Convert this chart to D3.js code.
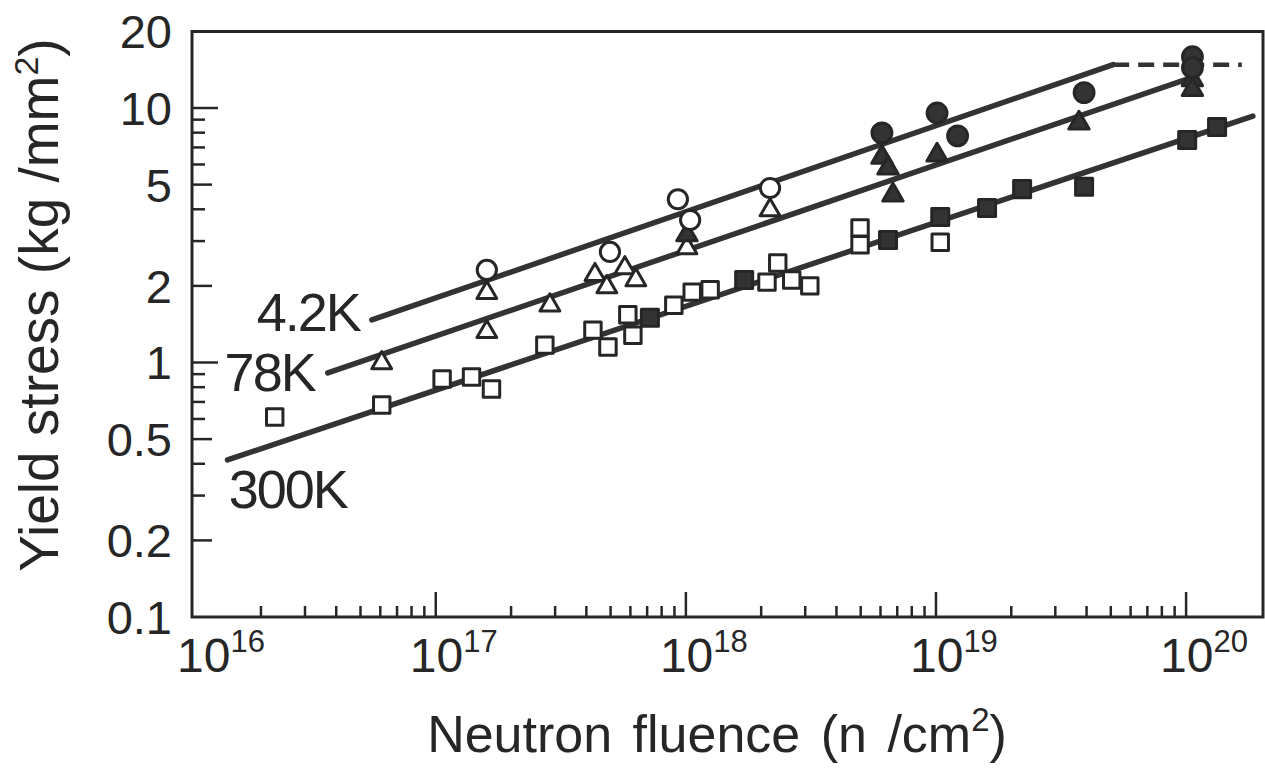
<!DOCTYPE html>
<html>
<head>
<meta charset="utf-8">
<script src="https://cdnjs.cloudflare.com/ajax/libs/d3/7.8.5/d3.min.js"></script>
<style>
  body { margin: 0; background: #fff; }
  text { font-family: "Liberation Sans", Arial, sans-serif; fill: #262626; }
</style>
</head>
<body>
<div id="holder"></div>
<script>
var width = 1265;
var height = 776;
var ink = "#262626";

// [fluence n/cm2, yield stress kg/mm2]
var openCircles = [[1.60e17, 2.31], [4.97e17, 2.72], [9.29e17, 4.38], [1.04e18, 3.63], [2.17e18, 4.85]];
var filledCircles = [[6.08e18, 7.98], [1.01e19, 9.56], [1.22e19, 7.77], [3.91e19, 11.5], [1.06e20, 15.9], [1.06e20, 14.4]];
var openTriangles = [[6.08e16, 0.995], [1.60e17, 1.88], [1.60e17, 1.32], [2.86e17, 1.68], [4.33e17, 2.21],
  [4.83e17, 1.98], [5.70e17, 2.35], [6.31e17, 2.11], [1.01e18, 2.82], [2.17e18, 3.97]];
var filledTriangles = [[1.01e18, 3.17], [6.08e18, 6.4], [6.43e18, 5.81], [6.73e18, 4.55], [1.01e19, 6.53],
  [3.73e19, 8.73], [1.06e20, 12.9], [1.06e20, 11.8]];
var openSquares = [[2.27e16, 0.611], [6.08e16, 0.681], [1.06e17, 0.861], [1.39e17, 0.877], [1.67e17, 0.787],
  [2.73e17, 1.17], [4.25e17, 1.34], [4.88e17, 1.15], [5.86e17, 1.54], [6.14e17, 1.28], [8.95e17, 1.68],
  [1.06e18, 1.89], [1.25e18, 1.93], [2.11e18, 2.07], [2.33e18, 2.46], [2.65e18, 2.11], [3.13e18, 2.0],
  [4.97e18, 3.38], [4.97e18, 2.90], [1.04e19, 2.97]];
var filledSquares = [[7.18e17, 1.50], [1.71e18, 2.11], [6.43e18, 3.03], [1.04e19, 3.73], [1.60e19, 4.05],
  [2.21e19, 4.8], [3.91e19, 4.9], [1.01e20, 7.48], [1.33e20, 8.42]];

var fit42 = [[5.55e16, 1.47], [5.11e19, 14.8]];
var sat42 = [[5.11e19, 14.8], [1.67e20, 14.8]];
var fit78 = [[3.70e16, 0.91], [9.9e19, 12.9]];
var fit300 = [[1.47e16, 0.414], [1.85e20, 9.30]];

// label text, right end fluence, middle stress
var curveLabels = [["4.2K", 4.97e16, 1.58], ["78K", 3.28e16, 0.918], ["300K", 4.41e16, 0.321]];

var yTickLabels = [20, 10, 5, 2, 1, 0.5, 0.2, 0.1];
var xDecades = [1e16, 1e17, 1e18, 1e19, 1e20];
var xExponents = ["16", "17", "18", "19", "20"];

var x = d3.scaleLog().domain([1.06e16, 2.03e20]).range([192, 1263]);
var y = d3.scaleLog().domain([0.1, 20]).range([617, 31.4]);

var svg = d3.select("#holder")
  .append("svg")
  .attr("width", width)
  .attr("height", height);

// frame
svg.append("path")
  .attr("d", "M" + x.range()[0] + "," + y(0.1) + "V" + y(20) + "H" + x.range()[1] + "V" + y(0.1) + "Z")
  .attr("fill", "none")
  .attr("stroke", ink)
  .attr("stroke-width", 3);

// y ticks, pointing inwards
var yTicks = [];
[0.1, 1].forEach(function(base) {
  for (var k = 2; k <= 10; k++) yTicks.push(k * base);
});
svg.append("g").selectAll("line")
  .data(yTicks)
  .enter().append("line")
  .attr("x1", x.range()[0])
  .attr("x2", function(d) {
    var m = Math.round(d * 100) / 100;
    if (m == 1 || m == 10) return x.range()[0] + 26;
    if (m == 0.2 || m == 0.5 || m == 2 || m == 5) return x.range()[0] + 20;
    return x.range()[0] + 13;
  })
  .attr("y1", function(d) { return y(d); })
  .attr("y2", function(d) { return y(d); })
  .attr("stroke", ink)
  .attr("stroke-width", 2.5);

// x ticks, pointing up from the bottom
var xTicks = [];
[1e16, 1e17, 1e18, 1e19].forEach(function(base) {
  for (var k = 2; k <= 10; k++) xTicks.push(k * base);
});
svg.append("g").selectAll("line")
  .data(xTicks)
  .enter().append("line")
  .attr("x1", function(d) { return x(d); })
  .attr("x2", function(d) { return x(d); })
  .attr("y1", y(0.1))
  .attr("y2", function(d) {
    var e = Math.log10(d);
    return Math.abs(e - Math.round(e)) < 1e-6 ? y(0.1) - 25 : y(0.1) - 11;
  })
  .attr("stroke", ink)
  .attr("stroke-width", 2.5);

// y tick labels
svg.append("g").selectAll("text")
  .data(yTickLabels)
  .enter().append("text")
  .attr("x", 172)
  .attr("y", function(d) { return y(d); })
  .attr("dy", "0.36em")
  .attr("text-anchor", "end")
  .style("font-size", "47px")
  .text(function(d) { return d; });

// x tick labels, 10 with superscript exponent
var xl = svg.append("g").selectAll("text")
  .data(xDecades)
  .enter().append("text")
  .attr("x", function(d) { return Math.max(x(d), 203) - 26; })
  .attr("y", 672)
  .style("font-size", "48px");
xl.append("tspan").text("10");
xl.append("tspan")
  .attr("dy", -20)
  .style("font-size", "31px")
  .text(function(d, i) { return xExponents[i]; });

// axis titles
var xt = svg.append("text")
  .attr("x", 717)
  .attr("y", 752)
  .attr("text-anchor", "middle")
  .style("font-size", "52px")
  .style("word-spacing", "6px");
xt.append("tspan").text("Neutron fluence  (n /cm");
xt.append("tspan").attr("dy", -21).style("font-size", "33px").text("2");
xt.append("tspan").attr("dy", 21).text(")");

var yt = svg.append("text")
  .attr("transform", "translate(58,305) rotate(-90)")
  .attr("text-anchor", "middle")
  .style("font-size", "55px");
yt.append("tspan").text("Yield stress (kg /mm");
yt.append("tspan").attr("dy", -20).style("font-size", "34px").text("2");
yt.append("tspan").attr("dy", 20).text(")");

// fitted lines
var line = d3.line()
  .x(function(d) { return x(d[0]); })
  .y(function(d) { return y(d[1]); });

[fit42, fit78, fit300].forEach(function(pts) {
  svg.append("path")
    .attr("d", line(pts))
    .attr("fill", "none")
    .attr("stroke", "#333")
    .attr("stroke-width", 5.5)
    .attr("stroke-linecap", "round");
});
svg.append("path")
  .attr("d", line(sat42))
  .attr("fill", "none")
  .attr("stroke", "#333")
  .attr("stroke-width", 4.5)
  .attr("stroke-dasharray", "16,9");

svg.append("g").selectAll("text")
  .data(curveLabels)
  .enter().append("text")
  .attr("x", function(d) { return x(d[1]); })
  .attr("y", function(d) { return y(d[2]); })
  .attr("dy", "0.36em")
  .attr("text-anchor", "end")
  .style("font-size", "54px")
  .style("letter-spacing", "-2px")
  .text(function(d) { return d[0]; });

// data markers
function drawMarkers(data, type, size, filled) {
  svg.append("g").selectAll("path")
    .data(data)
    .enter().append("path")
    .attr("d", d3.symbol().type(type).size(size))
    .attr("transform", function(d) { return "translate(" + x(d[0]) + "," + y(d[1]) + ")"; })
    .attr("fill", filled ? "#333" : "#fff")
    .attr("stroke", ink)
    .attr("stroke-width", 3)
    .attr("stroke-linejoin", "round");
}
drawMarkers(openSquares, d3.symbolSquare, 270, false);
drawMarkers(filledSquares, d3.symbolSquare, 290, true);
drawMarkers(openTriangles, d3.symbolTriangle, 170, false);
drawMarkers(filledTriangles, d3.symbolTriangle, 180, true);
drawMarkers(openCircles, d3.symbolCircle, 290, false);
drawMarkers(filledCircles, d3.symbolCircle, 310, true);
</script>
</body>
</html>
